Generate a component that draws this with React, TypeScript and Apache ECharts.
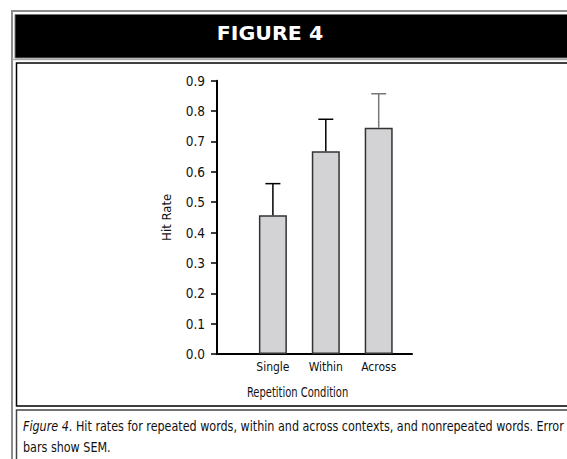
import React, { useEffect, useRef } from "react";
import * as echarts from "echarts";

const categories = ["Single", "Within", "Across"];
const hitRates = [0.457, 0.668, 0.745];
const errorUpper = [0.561, 0.773, 0.857];
const errorBarColors = ["#000000", "#000000", "#777777"];

const FONT = "'DejaVu Sans Condensed', 'DejaVu Sans', sans-serif";

export default function App() {
  const ref = useRef<HTMLDivElement>(null);

  useEffect(() => {
    if (!ref.current) return;
    const chart = echarts.init(ref.current, undefined, { renderer: "svg" });
    const gridTop = 80.7;
    const gridHeight = 273.3;
    const option: any = {
      animation: false,
      backgroundColor: "#ffffff",
      textStyle: { fontFamily: FONT },
      grid: [
        { left: 246.45, top: gridTop, width: 158.7, height: gridHeight },
        { left: 217, top: gridTop, width: 195, height: gridHeight },
      ],
      xAxis: [
        {
          gridIndex: 0,
          type: "category",
          data: categories,
          axisLine: { show: false },
          axisTick: { show: false },
          axisLabel: { fontSize: 12, color: "#111", margin: 7, fontFamily: FONT },
        },
        {
          gridIndex: 1,
          type: "category",
          data: [""],
          axisLine: { show: true, lineStyle: { color: "#000", width: 2 } },
          axisTick: { show: false },
          axisLabel: { show: false },
        },
      ],
      yAxis: [
        { gridIndex: 0, type: "value", min: 0, max: 0.9, show: false },
        {
          gridIndex: 1,
          type: "value",
          min: 0,
          max: 0.9,
          interval: 0.1,
          axisLine: { show: true, lineStyle: { color: "#000", width: 2 } },
          axisTick: { show: true, length: 6, lineStyle: { color: "#000", width: 1.5 } },
          splitLine: { show: false },
          axisLabel: {
            fontSize: 13.5,
            color: "#111",
            margin: 12,
            fontFamily: FONT,
            formatter: (v: number) => v.toFixed(1),
          },
          name: "Hit Rate",
          nameLocation: "middle",
          nameGap: 44,
          nameTextStyle: { fontSize: 13, color: "#111", fontFamily: FONT },
        },
      ],
      series: [
        {
          type: "bar",
          xAxisIndex: 0,
          yAxisIndex: 0,
          data: hitRates,
          barWidth: 28,
          itemStyle: { color: "#d3d3d6", borderColor: "#333", borderWidth: 1.5 },
          z: 2,
        },
        {
          type: "custom",
          xAxisIndex: 0,
          yAxisIndex: 0,
          data: categories.map((_, i) => [i, hitRates[i], errorUpper[i]]),
          z: 3,
          renderItem: (params: any, api: any) => {
            const x = api.value(0);
            const base = api.coord([x, api.value(1)]);
            const top = api.coord([x, api.value(2)]);
            const half = 7.5;
            const color = errorBarColors[params.dataIndex];
            return {
              type: "group",
              children: [
                {
                  type: "line",
                  shape: { x1: top[0], y1: base[1], x2: top[0], y2: top[1] },
                  style: { stroke: color, lineWidth: 1.5 },
                },
                {
                  type: "line",
                  shape: { x1: top[0] - half, y1: top[1], x2: top[0] + half, y2: top[1] },
                  style: { stroke: color, lineWidth: 1.5 },
                },
              ],
            };
          },
        },
      ],
      graphic: [
        {
          type: "polyline",
          z: -10,
          shape: { points: [[12, 470], [12, 11], [620, 11]] },
          style: { fill: "none", stroke: "#8c8c8c", lineWidth: 2 },
        },
        {
          type: "rect",
          z: -9,
          shape: { x: 15, y: 14.5, width: 620, height: 43.5 },
          style: { fill: "#000", stroke: "#777", lineWidth: 1 },
        },
        {
          type: "line",
          z: -9,
          shape: { x1: 12, y1: 59.5, x2: 620, y2: 59.5 },
          style: { stroke: "#aaaaaa", lineWidth: 1.5 },
        },
        {
          type: "text",
          z: 5,
          x: 270,
          y: 34,
          scaleX: 1.08,
          style: {
            text: "FIGURE 4",
            fill: "#fff",
            font: "bold 19px 'DejaVu Sans', sans-serif",
            textAlign: "center",
            textVerticalAlign: "middle",
          },
        },
        {
          type: "polyline",
          z: -9,
          shape: { points: [[620, 63], [16.5, 63], [16.5, 406], [620, 406]] },
          style: { fill: "none", stroke: "#000", lineWidth: 1.5 },
        },
        {
          type: "polyline",
          z: -9,
          shape: { points: [[620, 410], [16.5, 410], [16.5, 470]] },
          style: { fill: "none", stroke: "#444", lineWidth: 1.5 },
        },
        {
          type: "text",
          z: 5,
          x: 297.6,
          y: 392.7,
          scaleX: 0.82,
          style: {
            text: "Repetition Condition",
            fill: "#111",
            font: `13.5px ${FONT}`,
            textAlign: "center",
            textVerticalAlign: "middle",
          },
        },
        {
          type: "text",
          z: 5,
          x: 23,
          y: 426.7,
          scaleX: 0.888,
          style: {
            text: "{i|Figure 4}{r|. Hit rates for repeated words, within and across contexts, and nonrepeated words. Error}",
            textVerticalAlign: "middle",
            rich: {
              i: { fontStyle: "italic", fontSize: 14, fontFamily: FONT, fill: "#111" },
              r: { fontSize: 14, fontFamily: FONT, fill: "#111" },
            },
          },
        },
        {
          type: "text",
          z: 5,
          x: 23,
          y: 447,
          scaleX: 0.888,
          style: {
            text: "bars show SEM.",
            fill: "#111",
            font: `14px ${FONT}`,
            textVerticalAlign: "middle",
          },
        },
      ],
    };
    chart.setOption(option);
    return () => chart.dispose();
  }, []);

  return (
    <div
      ref={ref}
      style={{ position: "fixed", left: 0, top: 0, width: 567, height: 459 }}
    />
  );
}
